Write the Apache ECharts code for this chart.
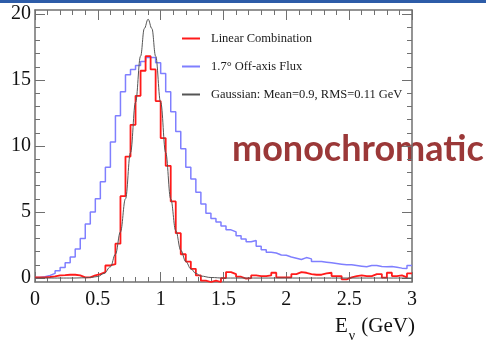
<!DOCTYPE html>
<html>
<head>
<meta charset="utf-8">
<title>monochromatic</title>
<script src="https://cdn.jsdelivr.net/npm/echarts@6.0.0/dist/echarts.min.js"></script>
<style>
html, body { margin: 0; padding: 0; background: #fff; }
#main { width: 486px; height: 340px; }
</style>
</head>
<body>
<div id="main"></div>
<script>
// histogram bins are 0.04 GeV wide, starting at 0
var binWidth = 0.04;

// Linear Combination (red)
var linearComb = [
    0.05, 0.05, 0.08, 0.12, 0.2, 0.22, 0.25, 0.25, 0.2, 0.05,
    0.05, 0.2, 0.3, 0.45, 0.95, 1.05, 2.6, 6.2, 9.2, 11.6,
    13.8, 15.7, 16.8, 15.8, 13.4, 10.6, 8.5, 5.8, 3.4, 1.8,
    1.25, 0.7, 0.2, -0.2, -0.3, -0.2, -0.3, 0.0, 0.45, 0.3,
    0.1, -0.05, 0.0, 0.2, 0.15, 0.15, 0.2, 0.4, 0.05, 0.05,
    0.05, 0.3, 0.45, 0.4, 0.3, 0.25, 0.25, 0.35, 0.4, 0.15,
    0.15, -0.1, 0.05, 0.15, 0.2, 0.15, 0.15, 0.3, 0.3, 0.03,
    0.4, 0.15, 0.2, 0.05, 0.35
];

// 1.7 deg off-axis flux (blue)
var offAxisFlux = [
    0.05, 0.1, 0.2, 0.35, 0.55, 0.8, 1.15, 1.6, 2.2, 3.0,
    4.1, 5.0, 6.0, 7.3, 8.4, 10.3, 12.3, 14.1, 15.4, 15.8,
    16.1, 16.4, 16.7, 16.7, 16.3, 15.5, 14.1, 12.6, 11.1, 9.8,
    8.4, 7.5, 6.5, 5.6, 4.9, 4.5, 4.25, 3.95, 3.65, 3.5,
    3.2, 2.95, 2.75, 2.85, 2.4, 2.15, 1.95, 1.9, 1.75, 1.72,
    1.6, 1.5, 1.4, 1.55, 1.45, 1.25, 1.25, 1.2, 1.15, 1.1,
    1.05, 1.0, 1.0, 0.95, 0.9, 0.85, 0.95, 0.95, 0.88, 0.85,
    0.88, 0.82, 0.75, 0.72, 0.95
];

// gaussian curve, points
var gaussE = [0, 0.3, 0.4, 0.45, 0.5, 0.55, 0.6, 0.64, 0.68, 0.72, 0.76, 0.8, 0.84, 0.87, 0.9,
    0.93, 0.96, 1.0, 1.04, 1.08, 1.12, 1.16, 1.2, 1.24, 1.28, 1.32, 1.4, 1.5, 3.0];
var gaussV = [0, 0, 0.02, 0.05, 0.12, 0.35, 0.85, 1.8, 3.5, 6.0, 9.5, 13.3, 16.8, 18.9, 19.6,
    18.9, 16.8, 13.3, 9.5, 6.0, 3.6, 2.1, 1.25, 0.7, 0.35, 0.15, 0.04, 0, 0];

var xMajorTicks = [0, 0.5, 1, 1.5, 2, 2.5, 3];
var yMajorTicks = [0, 5, 10, 15, 20];

var xMinorTicks = [];
for (var i = 0; i <= 30; i++) xMinorTicks.push(+(i * 0.1).toFixed(1));
var yMinorTicks = [];
for (var j = 0; j <= 20; j++) yMinorTicks.push(j);

var frameColor = '#707070';
var serif = '"Liberation Serif", "DejaVu Serif", serif';

function toSteps(values) {
    var res = [];
    for (var i = 0; i < values.length; i++) {
        res.push([+(i * binWidth).toFixed(2), values[i]]);
    }
    res.push([+(values.length * binWidth).toFixed(2), values[values.length - 1]]);
    return res;
}

function pairs(xs, ys) {
    return xs.map(function(x, i) { return [x, ys[i]]; });
}

// frame axis: major or minor ticks, drawn inside like ROOT
function frameAxis(kind, position, ticks, len, withLine) {
    var ax = {
        type: 'value',
        position: position,
        min: kind == 'x' ? 0 : -0.3,
        max: kind == 'x' ? 3 : 20.3,
        axisLine: { show: withLine, onZero: false, lineStyle: { color: frameColor, width: 1.5 } },
        axisTick: { show: true, inside: true, length: len, customValues: ticks,
            lineStyle: { color: frameColor, width: 1 } },
        axisLabel: { show: false },
        splitLine: { show: false }
    };
    return ax;
}

var xAxes = [
    frameAxis('x', 'bottom', xMajorTicks, 10, true),
    frameAxis('x', 'bottom', xMinorTicks, 5, false),
    frameAxis('x', 'top', xMajorTicks, 10, true),
    frameAxis('x', 'top', xMinorTicks, 5, false)
];
xAxes[0].axisLabel = { show: true, customValues: xMajorTicks, margin: 8,
    fontFamily: serif, fontSize: 20, color: '#111' };
xAxes[0].name = '{e|E}{s|ν}{e| (GeV)}';
xAxes[0].nameLocation = 'end';
xAxes[0].nameGap = 3;
xAxes[0].nameTextStyle = {
    align: 'right',
    verticalAlign: 'top',
    padding: [34, 0, 0, 0],
    rich: {
        e: { fontFamily: serif, fontSize: 21, color: '#111', lineHeight: 26, verticalAlign: 'top' },
        s: { fontFamily: serif, fontSize: 14, color: '#111', lineHeight: 14, padding: [13, 1, 0, 1], verticalAlign: 'top' }
    }
};

var yAxes = [
    frameAxis('y', 'left', yMajorTicks, 10, true),
    frameAxis('y', 'left', yMinorTicks, 5, false),
    frameAxis('y', 'right', yMajorTicks, 10, true),
    frameAxis('y', 'right', yMinorTicks, 5, false)
];
yAxes[0].axisLabel = { show: true, customValues: yMajorTicks, margin: 4,
    fontFamily: serif, fontSize: 20, color: '#111' };

var chart = echarts.init(document.getElementById('main'));
var option = {
    backgroundColor: '#fff',
    animation: false,
    grid: { left: 35, right: 74, top: 10, bottom: 58, containLabel: false, outerBoundsMode: 'none' },
    xAxis: xAxes,
    yAxis: yAxes,
    legend: {
        orient: 'vertical',
        left: 182,
        top: 32,
        padding: 0,
        icon: 'rect',
        itemWidth: 18,
        itemHeight: 2,
        itemGap: 15,
        textStyle: { fontFamily: serif, fontSize: 12.5, color: '#1a1a1a', padding: [0, 0, 0, 6] },
        data: ['Linear Combination', '1.7° Off-axis Flux', 'Gaussian: Mean=0.9, RMS=0.11 GeV']
    },
    graphic: [{
        type: 'rect',
        shape: { x: 0, y: 0, width: 486, height: 3 },
        style: { fill: '#2d5ca8' }
    }, {
        type: 'text',
        x: 232,
        y: 149,
        style: {
            text: 'monochromatic',
            font: 'bold 36px Lato, "Open Sans", sans-serif',
            fill: '#9b3838',
            verticalAlign: 'middle'
        }
    }],
    series: [{
        name: '1.7° Off-axis Flux',
        type: 'line',
        step: 'end',
        symbol: 'none',
        lineStyle: { color: '#7f7fff', width: 1.5 },
        itemStyle: { color: '#7f7fff' },
        data: toSteps(offAxisFlux)
    }, {
        name: 'Linear Combination',
        type: 'line',
        step: 'end',
        symbol: 'none',
        lineStyle: { color: '#ff1a1a', width: 1.8 },
        itemStyle: { color: '#ff1a1a' },
        data: toSteps(linearComb)
    }, {
        name: 'Gaussian: Mean=0.9, RMS=0.11 GeV',
        type: 'line',
        smooth: 0.4,
        smoothMonotone: 'x',
        symbol: 'none',
        lineStyle: { color: '#555', width: 1 },
        itemStyle: { color: '#555' },
        data: pairs(gaussE, gaussV)
    }]
};
chart.setOption(option);
window.onresize = chart.resize;
</script>
</body>
</html>
